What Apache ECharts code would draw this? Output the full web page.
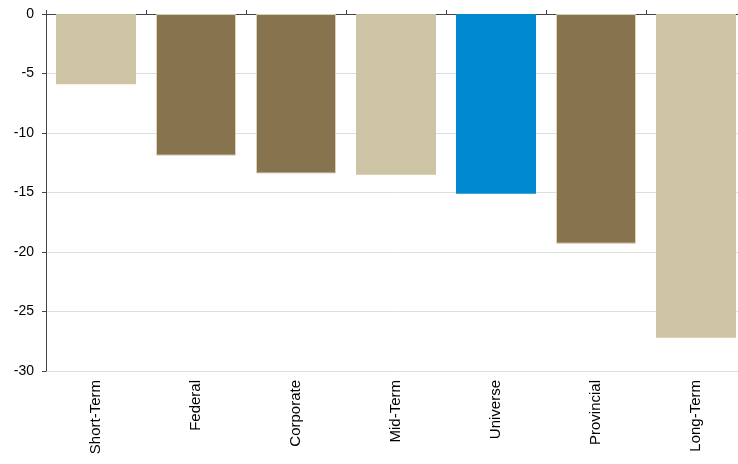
<!DOCTYPE html>
<html>
<head>
<meta charset="utf-8">
<script src="https://cdn.jsdelivr.net/npm/echarts@6/dist/echarts.min.js"></script>
<style>
html,body{margin:0;padding:0;background:#fff;}
#chart{width:738px;height:464px;}
</style>
</head>
<body>
<div id="chart"></div>
<script>
const categories = ['Short-Term', 'Federal', 'Corporate', 'Mid-Term', 'Universe', 'Provincial', 'Long-Term'];
const values = [-5.9, -11.9, -13.4, -13.5, -15.1, -19.3, -27.2];
const groups = ['term', 'sector', 'sector', 'term', 'universe', 'sector', 'term'];
const yTicks = [0, -5, -10, -15, -20, -25, -30];

const groupColors = { term: '#CDC4A5', sector: '#88734F', universe: '#0088D1' };

const chart = echarts.init(document.getElementById('chart'));
chart.setOption({
  animation: false,
  backgroundColor: '#fff',
  grid: { left: 46, top: 14, width: 700, bottom: 93, containLabel: false, outerBoundsMode: 'none' },
  xAxis: [
    {
      type: 'category', data: categories, position: 'bottom',
      axisLine: { show: false, onZero: false }, axisTick: { show: false },
      axisLabel: { rotate: 90, margin: 9, color: '#000', fontSize: 15, fontFamily: 'Liberation Sans, Arial, sans-serif' }
    },
    {
      type: 'category', data: categories, position: 'top',
      axisLine: { show: true, onZero: false, lineStyle: { color: '#444', width: 1 } },
      axisTick: { show: true, length: 4, lineStyle: { color: '#444' } },
      axisLabel: { show: false }
    }
  ],
  yAxis: {
    type: 'value', min: yTicks[yTicks.length - 1], max: yTicks[0], interval: 5,
    axisLine: { show: true, lineStyle: { color: '#444' } },
    axisTick: { show: true, length: 4, lineStyle: { color: '#444' } },
    axisLabel: { color: '#000', fontSize: 14, margin: 12, fontFamily: 'Liberation Sans, Arial, sans-serif' },
    splitLine: { show: true, lineStyle: { color: '#dedede', width: 1 } }
  },
  series: [{
    type: 'bar',
    xAxisIndex: 0,
    barWidth: 80,
    data: values.map((v, i) => ({
      value: v,
      itemStyle: {
        color: groupColors[groups[i]],
        borderColor: groups[i] === 'sector' ? '#D9D0B8' : groupColors[groups[i]],
        borderWidth: groups[i] === 'sector' ? 1 : 0
      }
    }))
  }]
});
</script>
</body>
</html>
